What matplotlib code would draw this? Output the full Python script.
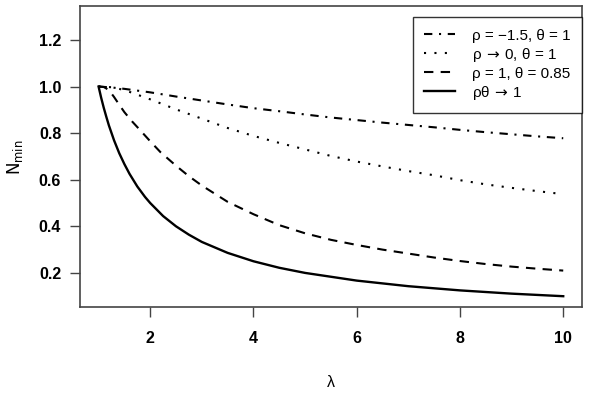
import numpy as np
import matplotlib.pyplot as plt

plt.rcParams['font.family'] = ['Liberation Sans', 'DejaVu Sans']
plt.rcParams['mathtext.fontset'] = 'dejavusans'

# values
lam_a = [1.0, 1.25, 1.5, 2.0, 2.5, 3.0, 3.5, 4.0, 4.5, 5.0, 5.5, 6.0, 6.5, 7.0, 7.5, 8.0, 8.5, 9.0, 9.5, 10.0]
n_a = [1.0, 0.996, 0.99, 0.975, 0.957, 0.94, 0.923, 0.907, 0.894, 0.88, 0.867, 0.856, 0.845, 0.835, 0.825, 0.814, 0.804, 0.795, 0.786, 0.778]

lam_b = [1.0, 1.25, 1.5, 2.0, 2.5, 3.0, 3.5, 4.0, 4.5, 5.0, 5.5, 6.0, 6.5, 7.0, 7.5, 8.0, 8.5, 9.0, 9.5, 10.0]
n_b = [1.0, 0.997, 0.985, 0.945, 0.902, 0.862, 0.822, 0.788, 0.758, 0.73, 0.702, 0.678, 0.657, 0.637, 0.619, 0.598, 0.58, 0.565, 0.551, 0.538]

lam_c = [1.0, 1.1, 1.2, 1.3, 1.4, 1.5, 1.65, 1.8, 2.0, 2.2, 2.5, 2.75, 3.0, 3.5, 4.0, 4.5, 5.0, 5.5, 6.0, 6.5, 7.0, 7.5, 8.0, 8.5, 9.0, 9.5, 10.0]
n_c = [1.0, 0.998, 0.985, 0.955, 0.922, 0.89, 0.85, 0.814, 0.765, 0.718, 0.66, 0.615, 0.575, 0.505, 0.452, 0.405, 0.37, 0.342, 0.32, 0.3, 0.283, 0.266, 0.251, 0.238, 0.227, 0.218, 0.21]

lam_d = [1.0, 1.05, 1.1, 1.15, 1.2, 1.3, 1.4, 1.5, 1.6, 1.75, 1.9, 2.0, 2.25, 2.5, 2.75, 3.0, 3.5, 4.0, 4.5, 5.0, 6.0, 7.0, 8.0, 9.0, 10.0]
n_d = [1.0, 0.952, 0.909, 0.87, 0.833, 0.769, 0.714, 0.667, 0.625, 0.571, 0.526, 0.5, 0.444, 0.4, 0.364, 0.333, 0.286, 0.25, 0.222, 0.2, 0.167, 0.143, 0.125, 0.111, 0.1]

labels = ['ρ = \u22121.5, θ = 1', r'ρ$\,\rightarrow\,$0, θ = 1', 'ρ = 1, θ = 0.85', r'ρθ$\,\rightarrow\,$1']

fig = plt.figure(figsize=(5.89, 3.94), dpi=100)
ax = fig.add_axes([0.1358, 0.221, 0.852, 0.764])

lw = 1.5
ax.plot(lam_a, n_a, color='black', lw=lw, dashes=(4, 3.2, 1, 3.2), label=labels[0])
ax.plot(lam_b, n_b, color='black', lw=lw, dashes=(1, 4), label=labels[1])
ax.plot(lam_c, n_c, color='black', lw=lw, dashes=(4.5, 3.5), label=labels[2])
ax.plot(lam_d, n_d, color='black', lw=1.7, label=labels[3])

ax.set_xlim(0.64, 10.36)
ax.set_ylim(0.054, 1.346)
ax.set_xticks([2, 4, 6, 8, 10])
ax.set_yticks([0.2, 0.4, 0.6, 0.8, 1.0, 1.2])
ax.set_yticklabels(['0.2', '0.4', '0.6', '0.8', '1.0', '1.2'])
for lab in ax.get_xticklabels() + ax.get_yticklabels():
    lab.set_fontweight('bold')
ax.tick_params(axis='both', labelsize=11.5, length=7.5, width=1, color='#444444', direction='out')
ax.tick_params(axis='x', pad=10)
ax.tick_params(axis='y', pad=6)
for s in ax.spines.values():
    s.set_color('#444444')
    s.set_linewidth(1.2)

fig.text(0.562, 0.028, 'λ', ha='center', va='center', fontsize=11.5)
fig.text(0.025, 0.6, r'$\mathrm{N_{min}}$', ha='center', va='center', fontsize=12, rotation=90)

leg = ax.legend(loc='upper right', bbox_to_anchor=(1.0, 0.963), fontsize=11, frameon=True,
                fancybox=False, edgecolor='black', handlelength=2.0, handletextpad=1.1,
                labelspacing=0.2, borderpad=0.75, borderaxespad=0)
leg.get_frame().set_linewidth(1.0)

fig.savefig('out.png', dpi=100)
